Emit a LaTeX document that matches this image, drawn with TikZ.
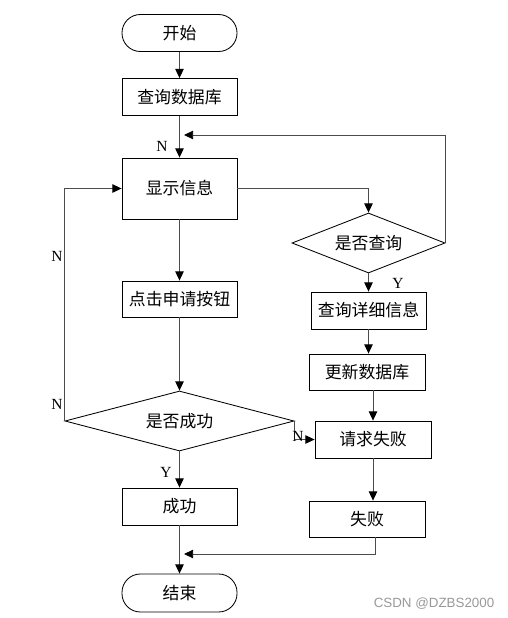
\documentclass[tikz,border=0pt]{standalone}
\usepackage{fontspec}
\setmainfont{Liberation Serif}
\newfontfamily\cjk{Noto Sans CJK SC}
\newfontfamily\wmfont{Liberation Sans}
\usepackage{tikz}
\usetikzlibrary{shapes.geometric, arrows.meta, positioning, calc}

\begin{document}
\begin{tikzpicture}[
  x=0.025cm, y=-0.025cm,
  proc/.style={draw, line width=0.6pt, font=\cjk\fontsize{12}{14}\selectfont,
               inner sep=0pt, minimum width=2.875cm, minimum height=0.925cm},
  term/.style={proc, rounded corners=0.46cm},
  decide/.style={draw, diamond, aspect=2.5, line width=0.6pt, inner sep=0pt,
                 font=\cjk\fontsize{12}{14}\selectfont},
  flow/.style={draw=black!70, line width=0.6pt,
               -{Triangle[length=6.5pt, width=6pt, color=black]}},
  yn/.style={font=\fontsize{11}{12}\selectfont},
]
\useasboundingbox (0,0) rectangle (507,618);

% Left column
\node[term] (start) at (179.5, 33) {开始};
\node[proc] (querydb) at (179.5, 97) {查询数据库};
\node[proc, minimum height=1.525cm] (show) at (179.5, 188.5) {显示信息};
\node[proc, minimum height=0.9cm] (click) at (179.5, 299) {点击申请按钮};
\node[decide, minimum width=5.725cm, minimum height=1.5cm] (ok) at (179.5, 421) {是否成功};
\node[proc] (succ) at (179.5, 506.5) {成功};
\node[term, minimum height=0.95cm] (finish) at (179.5, 593) {结束};

% Right column
\node[decide, minimum width=3.825cm, minimum height=1.5cm] (ask) at (368.5, 243) {是否查询};
\node[proc] (detail) at (368.5, 310.5) {查询详细信息};
\node[proc, minimum width=2.9cm, minimum height=0.9cm] (update) at (367, 372) {更新数据库};
\node[proc, minimum width=2.9cm] (reqfail) at (373, 439.5) {请求失败};
\node[proc, minimum width=2.9cm, minimum height=0.9cm] (fail) at (367, 519) {失败};

\coordinate (loopin) at (184, 135);
\coordinate (joinin) at (184, 554);

% Arrows
\draw[flow] (start) -- (querydb);
\draw[flow] (querydb) -- (show);
\draw[flow] (ask.east) |- (loopin);
\draw[flow] (show.east) -| (ask.north);
\draw[flow] (show) -- (click);
\draw[flow] (click) -- (ok);
\draw[flow] (ok.west) |- (show.west);
\draw[flow] (ok.east) |- (reqfail.west);
\draw[flow] (ok) -- (succ);
\draw[flow] (succ) -- (finish);
\draw[flow] (ask) -- (detail);
\draw[flow] (detail.south) -- (detail.south|-update.north);
\draw[flow] (reqfail.north|-update.south) -- (reqfail.north);
\draw[flow] (reqfail.south) -- (reqfail.south|-fail.north);
\draw[flow] ($(fail.south)+(8,0)$) |- (joinin);

% Labels
\node[yn] (n1) at (162, 146) {N};
\node[yn] (n2) at (57, 256) {N};
\node[yn] (n3) at (57, 404) {N};
\node[yn] (n4) at (298, 436) {N};
\node[yn] (y1) at (398, 283) {Y};
\node[yn] (y2) at (166, 472) {Y};

% Bottom
\node[font=\wmfont\fontsize{9.5}{11}\selectfont, black!40] (mark) at (434, 604) {CSDN @DZBS2000};
\end{tikzpicture}
\end{document}
